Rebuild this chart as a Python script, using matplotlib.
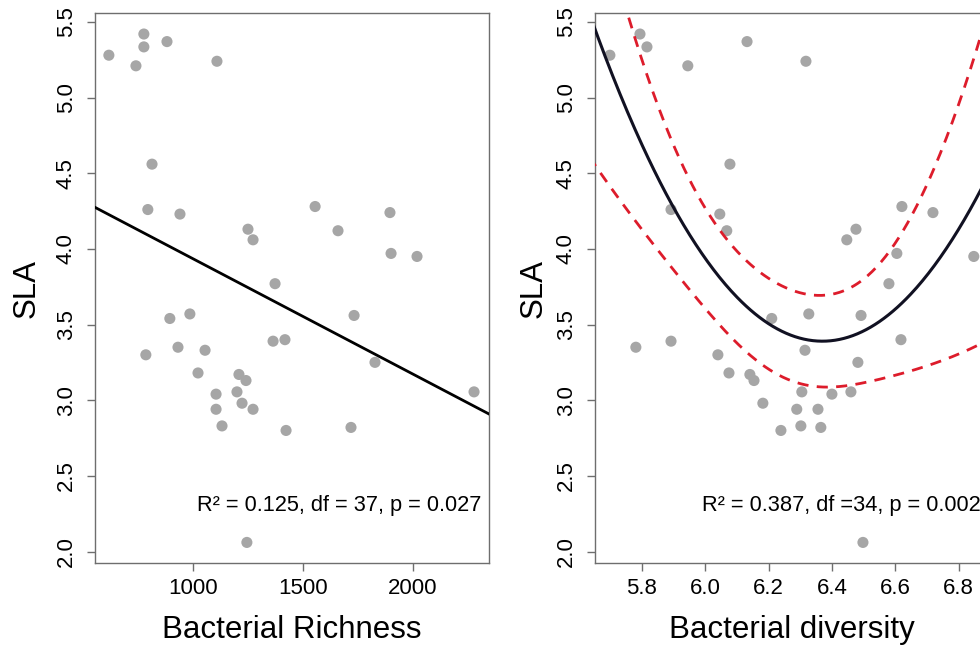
import numpy as np
import matplotlib.pyplot as plt

plt.rcParams['font.family'] = ['Liberation Sans', 'DejaVu Sans']

# one entry per sample, same order for all three lists
richness = [618, 777, 777, 741, 882, 1109, 814, 795, 941, 1250,
            1273, 1555, 1659, 1895, 1900, 2018, 1373, 1732, 895, 986,
            786, 932, 1055, 1023, 1209, 1241, 1105, 1200, 1223, 1273,
            1105, 1132, 1364, 1418, 1827, 1718, 1423, 2277, 1245]
diversity = [5.699, 5.794, 5.816, 5.945, 6.132, 6.318, 6.078, 5.892, 6.046, 6.476,
             6.447, 6.621, 6.068, 6.719, 6.605, 6.848, 6.580, 6.492, 6.210, 6.327,
             6.040, 5.781, 6.315, 6.075, 6.141, 6.154, 6.400, 6.305, 6.182, 6.289,
             6.356, 6.302, 5.892, 6.618, 6.482, 6.365, 6.239, 6.460, 6.498]
sla = [5.28, 5.42, 5.335, 5.21, 5.37, 5.24, 4.56, 4.26, 4.23, 4.13,
       4.06, 4.28, 4.12, 4.24, 3.97, 3.95, 3.77, 3.56, 3.54, 3.57,
       3.30, 3.35, 3.33, 3.18, 3.17, 3.13, 3.04, 3.055, 2.98, 2.94,
       2.94, 2.83, 3.39, 3.40, 3.25, 2.82, 2.80, 3.055, 2.06]

# linear fit, SLA ~ richness
lin_intercept = 4.698
lin_slope = -0.000763

# quadratic fit, SLA ~ diversity + diversity^2 (vertex form)
quad_vertex_x = 6.37
quad_vertex_y = 3.39
quad_curv = 4.0
# 95% band half width: sqrt(band_a + band_c*(x - band_center)^4)
band_center = 6.24
band_a = 0.09
band_c = 6.0

stats_left = 'R² = 0.125, df = 37, p = 0.027'
stats_right = 'R² = 0.387, df =34, p = 0.002'

W, H = 980, 649
fig = plt.figure(figsize=(W / 100, H / 100), dpi=100)
ax1 = fig.add_axes([95 / W, 86 / H, 394 / W, 550 / H])
ax2 = fig.add_axes([595 / W, 86 / H, 394 / W, 550 / H])

pt_col = '#a6a6a6'
spine_col = '#6e6e6e'


def style(ax, ypad):
    for s in ax.spines.values():
        s.set_color(spine_col)
        s.set_linewidth(1.0)
    ax.tick_params(direction='out', length=6, width=1.0, color=spine_col,
                   labelsize=16, labelcolor='black')
    ax.tick_params(axis='y', pad=7)
    ax.tick_params(axis='x', pad=5)
    ax.set_yticks([2.0, 2.5, 3.0, 3.5, 4.0, 4.5, 5.0, 5.5])
    ax.set_yticklabels(['2.0', '2.5', '3.0', '3.5', '4.0', '4.5', '5.0', '5.5'],
                       rotation=90, va='center')
    ax.set_ylim(1.924, 5.559)
    ax.set_ylabel('SLA', fontsize=22.5, labelpad=ypad)


# left panel
ax1.scatter(richness, sla, s=64, color=pt_col, edgecolors='none', zorder=2)
xr = np.array([500, 2400])
ax1.plot(xr, lin_intercept + lin_slope * xr, color='black', lw=2.0, zorder=3)
ax1.set_xlim(555, 2345)
ax1.set_xticks([1000, 1500, 2000])
style(ax1, 10)
ax1.set_xlabel('Bacterial Richness', fontsize=22.5, labelpad=11)
ax1.text(2309, 2.27, stats_left, fontsize=15.7, ha='right', va='baseline')

# right panel
ax2.scatter(diversity, sla, s=64, color=pt_col, edgecolors='none', zorder=2)
xd = np.linspace(5.6, 7.0, 300)
fit = quad_curv * (xd - quad_vertex_x) ** 2 + quad_vertex_y
half = np.sqrt(band_a + band_c * (xd - band_center) ** 4)
ax2.plot(xd, fit, color='#111122', lw=2.2, zorder=3)
ax2.plot(xd, fit + half, color='#dd1c2b', lw=2.0, ls=(0, (4, 3)), zorder=3)
ax2.plot(xd, fit - half, color='#dd1c2b', lw=2.0, ls=(0, (4, 3)), zorder=3)
ax2.set_xlim(5.652, 6.896)
ax2.set_xticks([5.8, 6.0, 6.2, 6.4, 6.6, 6.8])
ax2.set_xticklabels(['5.8', '6.0', '6.2', '6.4', '6.6', '6.8'])
style(ax2, 5)
ax2.set_xlabel('Bacterial diversity', fontsize=22.5, labelpad=11)
ax2.text(6.871, 2.27, stats_right, fontsize=15.7, ha='right', va='baseline')

fig.savefig('out.png', dpi=100)
